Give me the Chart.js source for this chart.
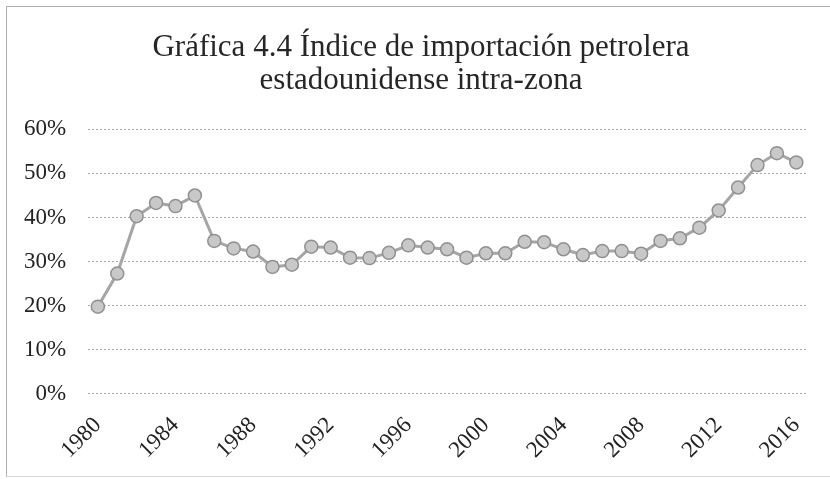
<!DOCTYPE html>
<html>
<head>
<meta charset="utf-8">
<script src="https://cdn.jsdelivr.net/npm/chart.js@4"></script>
<style>
  html, body { margin: 0; padding: 0; background: #fff; }
  #wrap { position: relative; width: 830px; height: 479px; }
  #frame {
    position: absolute;
    left: 6px; top: 6px; right: 0; bottom: 2px;
    border-left: 1px solid #b0b0b0;
    border-top: 1px solid #b0b0b0;
    border-bottom: 1px solid #d8d8d8;
    pointer-events: none;
  }
  #chart { position: absolute; left: 0; top: 0; }
</style>
</head>
<body>
<div id="wrap"><canvas id="chart" width="830" height="479"></canvas><div id="frame"></div></div>
<script>
// ---------- Data ----------

const years = [
  1980, 1981, 1982, 1983, 1984, 1985, 1986, 1987, 1988, 1989,
  1990, 1991, 1992, 1993, 1994, 1995, 1996, 1997, 1998, 1999,
  2000, 2001, 2002, 2003, 2004, 2005, 2006, 2007, 2008, 2009,
  2010, 2011, 2012, 2013, 2014, 2015, 2016,
];

// Índice (%)
const indice = [
  19.8, 27.3, 40.3, 43.3, 42.6, 45.0, 34.7, 33.0, 32.3, 28.8,
  29.3, 33.4, 33.2, 30.9, 30.8, 32.0, 33.7, 33.2, 32.8, 30.9,
  31.9, 31.9, 34.5, 34.4, 32.8, 31.5, 32.4, 32.4, 31.8, 34.7,
  35.3, 37.7, 41.6, 46.8, 51.9, 54.6, 52.5,
];

const yTicks = [0, 10, 20, 30, 40, 50, 60];

const titleLines = [
  'Gráfica 4.4 Índice de importación petrolera',
  'estadounidense intra-zona',
];

// ---------- Chart ----------

const SERIF = '"Liberation Serif", "Times New Roman", serif';

// El título del original está centrado en el marco completo, algo a la derecha
const titleShift = {
  id: 'titleShift',
  afterLayout(chart) {
    const t = chart.titleBlock;
    if (!t) return;
    t.left += 17;
    t.right += 17;
  },
};

new Chart(document.getElementById('chart').getContext('2d'), {
  type: 'line',
  data: {
    labels: years.map(String),
    datasets: [{
      data: indice,
      borderColor: '#a5a5a5',
      borderWidth: 3,
      pointRadius: 6.5,
      pointBackgroundColor: '#c8c8c8',
      pointBorderColor: '#909090',
      pointBorderWidth: 1.5,
      tension: 0,
      fill: false,
    }],
  },
  plugins: [titleShift],
  options: {
    responsive: false,
    animation: false,
    layout: { padding: { left: 2, right: 24, top: 10, bottom: 5 } },
    plugins: {
      legend: { display: false },
      tooltip: { enabled: false },
      title: {
        display: true,
        text: titleLines,
        color: '#262626',
        font: { family: SERIF, size: 31, weight: 'normal', lineHeight: 1.07 },
        padding: { top: 21, bottom: 32 },
      },
    },
    scales: {
      x: {
        offset: true,
        grid: { display: false },
        border: { display: false },
        ticks: {
          autoSkip: false,
          maxRotation: 45,
          minRotation: 45,
          color: '#222',
          font: { family: SERIF, size: 23 },
          padding: 10,
          callback: (v, i) => ((years[i] - years[0]) % 4 === 0 ? years[i] : ''),
        },
      },
      y: {
        min: yTicks[0],
        max: yTicks[yTicks.length - 1],
        afterBuildTicks: (axis) => { axis.ticks = yTicks.map(v => ({ value: v })); },
        border: { display: false, dash: [2, 2] },
        grid: {
          color: '#a8a8a8',
          lineWidth: 1,
          drawTicks: false,
        },
        ticks: {
          color: '#222',
          font: { family: SERIF, size: 23 },
          padding: 22,
          callback: (v) => v + '%',
        },
      },
    },
  },
});
</script>
</body>
</html>
